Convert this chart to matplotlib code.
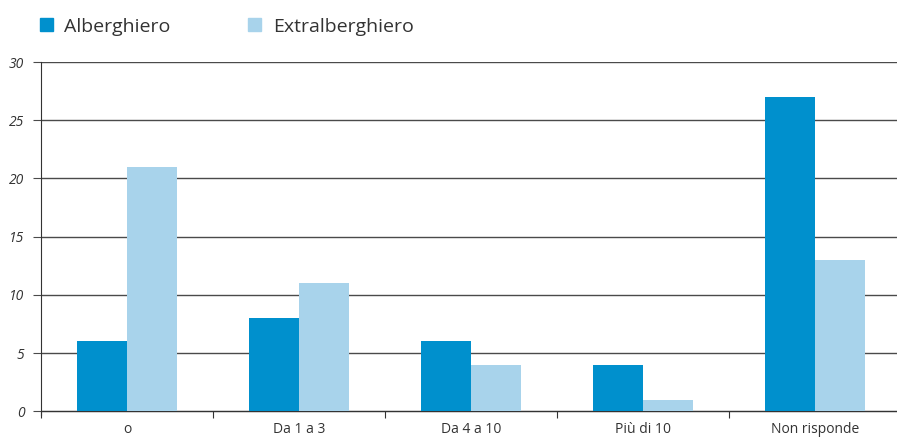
import matplotlib
matplotlib.use("Agg")
import matplotlib.pyplot as plt
from matplotlib.patches import Patch
import numpy as np

categories = ["o", "Da 1 a 3", "Da 4 a 10", "Più di 10", "Non risponde"]
alberghiero = [6, 8, 6, 4, 27]
extralberghiero = [21, 11, 4, 1, 13]
yticks = [0, 5, 10, 15, 20, 25, 30]

dark = "#0090cd"
light = "#a8d3eb"
plt.rcParams["font.family"] = ["Open Sans", "DejaVu Sans"]

fig = plt.figure(figsize=(8.97, 4.38), dpi=100)
ax = fig.add_axes([41 / 897, 1 - 411 / 438 - 0.01, 860 / 897, (411 - 62) / 438 + 0.01])

x = np.arange(len(categories))
w = 0.29
ax.bar(x - w / 2, alberghiero, w, color=dark, zorder=3)
ax.bar(x + w / 2, extralberghiero, w, color=light, zorder=3)

ymin = -0.35
ax.set_ylim(ymin, 30)
ax.set_xlim(-0.5, len(categories) - 0.5)
for t in yticks:
    ax.axhline(t, color="#4a4a4a", lw=1, zorder=1)

ax.spines[["top", "right"]].set_visible(False)
ax.spines["bottom"].set_position(("data", 0))
ax.spines["bottom"].set_color("#333333")
ax.spines["left"].set_color("#333333")

ax.set_yticks(yticks)
ax.set_yticklabels([str(t) for t in yticks], fontstyle="italic", color="#333333", fontsize=10)
ax.tick_params(axis="y", length=6, color="#4a4a4a", pad=6)

ax.set_xticks(np.arange(len(categories) + 1) - 0.5, minor=False)
ax.set_xticklabels([])
ax.tick_params(axis="x", length=5, color="#333333")
ax.set_xticks(x, minor=True)
ax.set_xticklabels(categories, minor=True, fontsize=10, color="#333333")
ax.tick_params(axis="x", which="minor", length=0, pad=8)

handles = [Patch(color=dark, label="Alberghiero"), Patch(color=light, label="Extralberghiero")]
fig.legend(handles=handles, loc="upper left", bbox_to_anchor=(0.025, 1.0), ncol=2,
           frameon=False, prop={"size": 14, "weight": "medium"}, handlelength=0.65,
           handleheight=0.65, handletextpad=0.6, columnspacing=4.0,
           labelcolor="#333333")

fig.savefig("out.png", dpi=100)
